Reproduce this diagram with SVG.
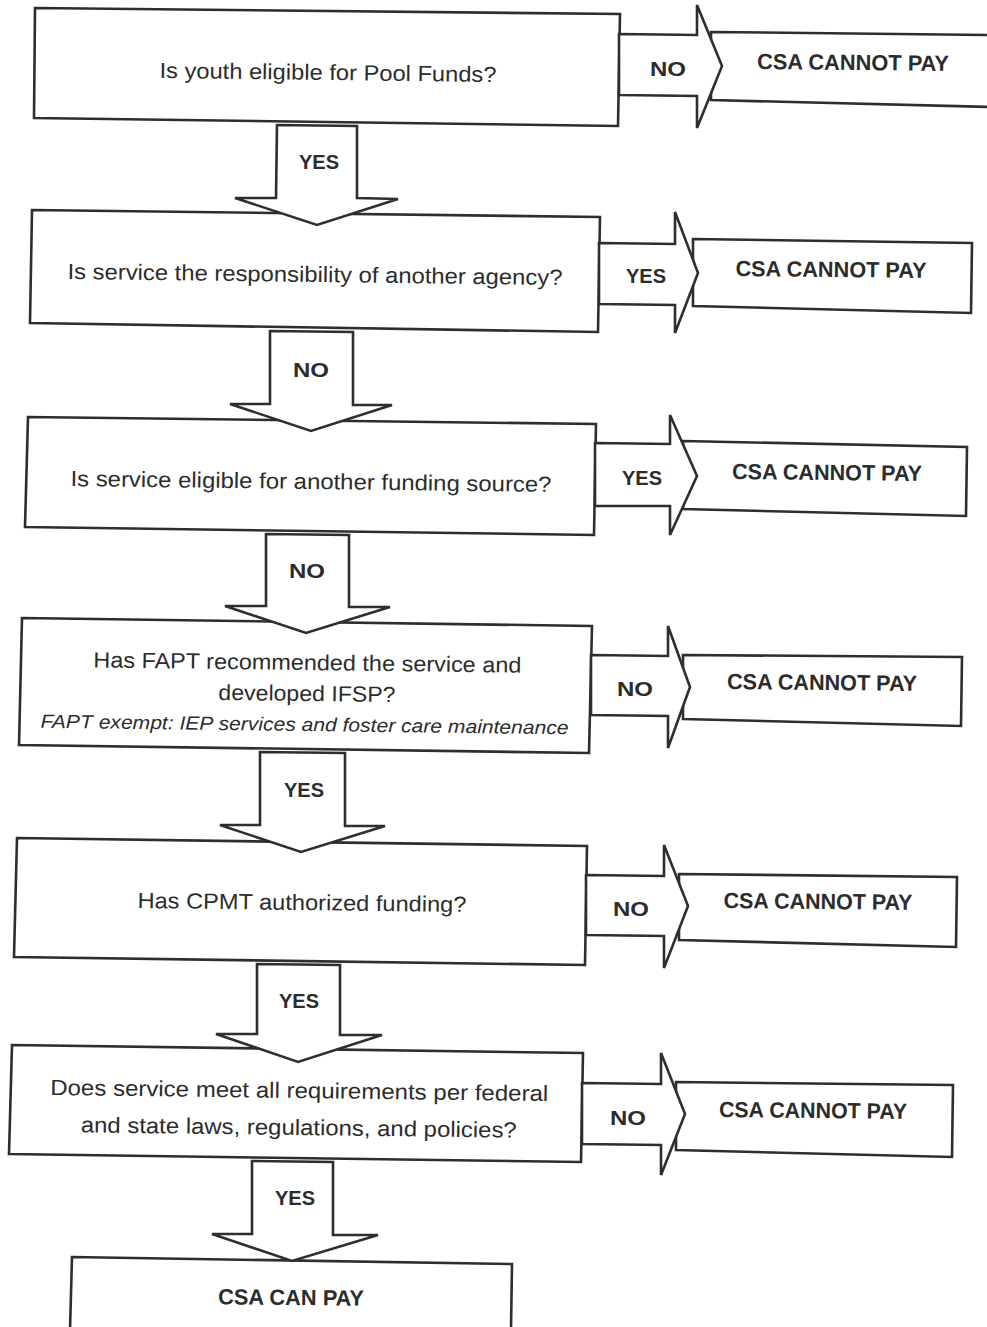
<svg xmlns="http://www.w3.org/2000/svg" width="987" height="1327" viewBox="0 0 987 1327">
<style>
.b{fill:#fff;stroke:#2e2e2e;stroke-width:2.6;stroke-linejoin:miter}
.a{fill:#fff;stroke:#2e2e2e;stroke-width:2.6;stroke-linejoin:miter}
text{font-family:"Liberation Sans","DejaVu Sans",sans-serif;fill:#2c2c2c;text-anchor:middle}
.q{font-size:22px}
.i{font-size:19px;font-style:italic}
.c{font-size:22px;font-weight:bold}
.l{font-size:21px;font-weight:bold}
</style>
<rect width="987" height="1327" fill="#fff"/>
<!-- result boxes -->
<g id="n1no"><polygon class="b" points="711,32 990,35 990,107 711,100"/><text class="c" x="853" y="70" textLength="192" lengthAdjust="spacingAndGlyphs" transform="rotate(0.6 853 62)">CSA CANNOT PAY</text></g>
<g id="n2yes"><polygon class="b" points="693,239 972,243 971,313 693,306"/><text class="c" x="831" y="277" textLength="191" lengthAdjust="spacingAndGlyphs" transform="rotate(0.6 831 269)">CSA CANNOT PAY</text></g>
<g id="n3yes"><polygon class="b" points="683,441 967,447 966,516 683,509"/><text class="c" x="827" y="480" textLength="190" lengthAdjust="spacingAndGlyphs" transform="rotate(0.6 827 472)">CSA CANNOT PAY</text></g>
<g id="n4no"><polygon class="b" points="683,655 962,657 961,726 683,719"/><text class="c" x="822" y="690" textLength="190" lengthAdjust="spacingAndGlyphs" transform="rotate(0.6 822 682)">CSA CANNOT PAY</text></g>
<g id="n5no"><polygon class="b" points="679,874 957,877 956,947 679,940"/><text class="c" x="818" y="909" textLength="189" lengthAdjust="spacingAndGlyphs" transform="rotate(0.6 818 901)">CSA CANNOT PAY</text></g>
<g id="n6no"><polygon class="b" points="676,1082 953,1085 952,1157 676,1150"/><text class="c" x="813" y="1118" textLength="188" lengthAdjust="spacingAndGlyphs" transform="rotate(0.6 813 1110)">CSA CANNOT PAY</text></g>
<!-- decision boxes -->
<g id="q1"><polygon class="b" points="35,8 620,14 618,126 34,118"/><text class="q" x="328" y="80" textLength="337" lengthAdjust="spacingAndGlyphs" transform="rotate(0.7 328 72)">Is youth eligible for Pool Funds?</text></g>
<g id="q2"><polygon class="b" points="32,210 600,217 598,332 30,323"/><text class="q" x="315" y="282" textLength="495" lengthAdjust="spacingAndGlyphs" transform="rotate(0.7 315 274)">Is service the responsibility of another agency?</text></g>
<g id="q3"><polygon class="b" points="28,417 596,424 594,535 25,527"/><text class="q" x="311" y="489" textLength="481" lengthAdjust="spacingAndGlyphs" transform="rotate(0.7 311 481)">Is service eligible for another funding source?</text></g>
<g id="q4"><polygon class="b" points="22,618 592,626 589,753 19,745"/>
<g transform="rotate(0.7 305 690)"><text class="q" x="307" y="670" textLength="428" lengthAdjust="spacingAndGlyphs">Has FAPT recommended the service and</text><text class="q" x="307" y="701" textLength="177" lengthAdjust="spacingAndGlyphs">developed IFSP?</text><text class="i" x="305" y="731" textLength="528" lengthAdjust="spacingAndGlyphs">FAPT exempt: IEP services and foster care maintenance</text></g></g>
<g id="q5"><polygon class="b" points="17,838 587,846 585,965 14,957"/><text class="q" x="302" y="910" textLength="329" lengthAdjust="spacingAndGlyphs" transform="rotate(0.7 302 902)">Has CPMT authorized funding?</text></g>
<g id="q6"><polygon class="b" points="12,1045 583,1053 581,1162 9,1154"/>
<g transform="rotate(0.7 299 1108)"><text class="q" x="299" y="1098" textLength="498" lengthAdjust="spacingAndGlyphs">Does service meet all requirements per federal</text><text class="q" x="299" y="1135" textLength="436" lengthAdjust="spacingAndGlyphs">and state laws, regulations, and policies?</text></g></g>
<g id="end"><polygon class="b" points="72,1257 512,1264 511,1330 70,1330"/><text class="c" x="291" y="1305" textLength="146" lengthAdjust="spacingAndGlyphs" transform="rotate(0.6 291 1297)">CSA CAN PAY</text></g>
<!-- connectors -->
<g id="connectors">
<polygon class="a" points="277,125 357,126 357,198 398,199 317,225 235,198 276,198"/>
<polygon class="a" points="270,331 353,332 353,405 392,405 311,431 230,404 270,404"/>
<polygon class="a" points="266,534 349,535 349,607 390,607 306,633 225,606 266,606"/>
<polygon class="a" points="260,752 345,753 345,826 385,826 301,852 220,825 260,825"/>
<polygon class="a" points="257,964 340,965 340,1035 382,1035 298,1062 216,1034 257,1034"/>
<polygon class="a" points="252,1161 333,1162 333,1235 378,1235 292,1261 212,1234 252,1234"/>
<polygon class="a" points="619,34 697,35 697,5 722,66 697,128 697,96 619,95"/>
<polygon class="a" points="599,243 675,244 675,212 698,273 675,333 675,305 599,304"/>
<polygon class="a" points="595,443 670,444 670,415 697,476 670,535 670,506 595,506"/>
<polygon class="a" points="591,655 668,656 668,626 690,687 668,748 668,716 591,715"/>
<polygon class="a" points="586,875 664,876 664,845 688,906 664,968 664,936 586,935"/>
<polygon class="a" points="582,1083 661,1084 661,1053 685,1114 661,1175 661,1145 582,1144"/>
<g class="lbl">
<text class="l" x="319" y="169" textLength="40" lengthAdjust="spacingAndGlyphs">YES</text>
<text class="l" x="311" y="377" textLength="36" lengthAdjust="spacingAndGlyphs">NO</text>
<text class="l" x="307" y="578" textLength="36" lengthAdjust="spacingAndGlyphs">NO</text>
<text class="l" x="304" y="797" textLength="40" lengthAdjust="spacingAndGlyphs">YES</text>
<text class="l" x="299" y="1008" textLength="40" lengthAdjust="spacingAndGlyphs">YES</text>
<text class="l" x="295" y="1205" textLength="40" lengthAdjust="spacingAndGlyphs">YES</text>
<text class="l" x="668" y="76" textLength="36" lengthAdjust="spacingAndGlyphs">NO</text>
<text class="l" x="646" y="283" textLength="40" lengthAdjust="spacingAndGlyphs">YES</text>
<text class="l" x="642" y="485" textLength="40" lengthAdjust="spacingAndGlyphs">YES</text>
<text class="l" x="635" y="696" textLength="36" lengthAdjust="spacingAndGlyphs">NO</text>
<text class="l" x="631" y="916" textLength="36" lengthAdjust="spacingAndGlyphs">NO</text>
<text class="l" x="628" y="1125" textLength="36" lengthAdjust="spacingAndGlyphs">NO</text>
</g>
</g>
</svg>
